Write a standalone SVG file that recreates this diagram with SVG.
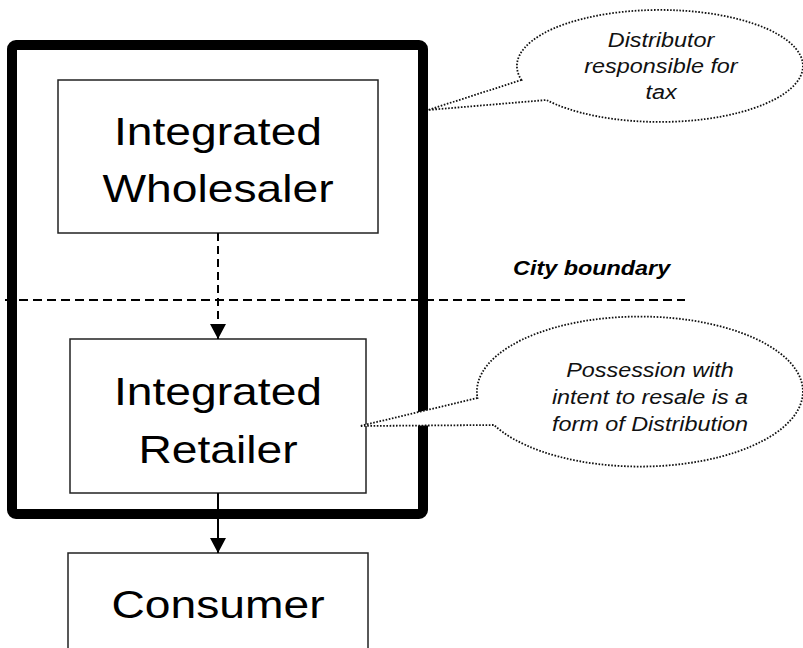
<svg xmlns="http://www.w3.org/2000/svg" width="803" height="648" viewBox="0 0 803 648">
<style>
.box{fill:#fff;stroke:#222;stroke-width:1.5}
.nt{font-family:"Liberation Sans",Arial,sans-serif;font-size:38.5px;fill:#000;text-anchor:middle}
.ct{font-family:"Liberation Sans",Arial,sans-serif;font-size:19.5px;font-style:italic;fill:#111;text-anchor:middle}
.callout{fill:#fff;stroke:#111;stroke-width:1.8;stroke-dasharray:1.6 1.6}
.conn{stroke:#000;stroke-width:2;fill:none}
</style>
<defs>
<marker id="ah" viewBox="0 0 15 16" refX="15" refY="8" markerWidth="15" markerHeight="16" markerUnits="userSpaceOnUse" orient="auto">
<path d="M0,0 L15,8 L0,16 Z" fill="#000"/>
</marker>
</defs>
<rect width="803" height="648" fill="#fff"/>
<g id="city-boundary">
<rect id="frame" x="12" y="45" width="411" height="469" rx="4" fill="none" stroke="#000" stroke-width="10"/>
<line x1="5" y1="300" x2="685" y2="300" stroke="#000" stroke-width="2" stroke-dasharray="9 5"/>
<text transform="translate(513,275) scale(1.2,1)" font-family="'Liberation Sans',Arial,sans-serif" font-size="19.5" font-weight="bold" font-style="italic" fill="#000">City boundary</text>
</g>
<g id="callout-distributor">
<path class="callout" d="M521.5,80 L428,110 L546.4,100 A143 56 0 1 0 521.5,80 Z"/>
<text class="ct" transform="translate(661,47) scale(1.2,1)">Distributor</text>
<text class="ct" transform="translate(661,73) scale(1.2,1)">responsible for</text>
<text class="ct" transform="translate(661,99) scale(1.2,1)">tax</text>
</g>
<g id="wholesaler">
<rect class="box" x="58" y="80" width="320" height="153"/>
<text class="nt" transform="translate(218,145) scale(1.2,1)">Integrated</text>
<text class="nt" transform="translate(218,202) scale(1.2,1)">Wholesaler</text>
</g>
<g id="retailer">
<rect class="box" x="70" y="339" width="296" height="154"/>
<text class="nt" transform="translate(218,405) scale(1.2,1)">Integrated</text>
<text class="nt" transform="translate(218,463) scale(1.2,1)">Retailer</text>
</g>
<g id="callout-possession">
<path class="callout" d="M477.5,398 L360,426 L494,425 A163 75 0 1 0 477.5,398 Z"/>
<text class="ct" transform="translate(650,377) scale(1.2,1)">Possession with</text>
<text class="ct" transform="translate(650,404) scale(1.2,1)">intent to resale is a</text>
<text class="ct" transform="translate(650,431) scale(1.2,1)">form of Distribution</text>
</g>
<g id="consumer">
<rect class="box" x="68" y="553" width="300" height="110"/>
<text class="nt" transform="translate(218,618) scale(1.2,1)">Consumer</text>
</g>
<g id="connectors">
<line class="conn" x1="218" y1="233" x2="218" y2="339" stroke-dasharray="8 5" marker-end="url(#ah)"/>
<line class="conn" x1="218" y1="493" x2="218" y2="553" marker-end="url(#ah)"/>
</g>
</svg>
